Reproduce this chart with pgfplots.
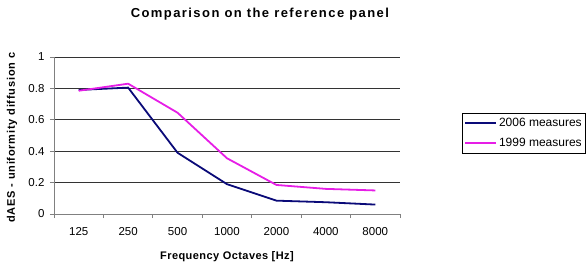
\documentclass[border=0pt]{standalone}
\usepackage{pgfplots}
\pgfplotsset{compat=1.18}
\usepackage{fontspec}
\setmainfont{Liberation Sans}
\newfontfamily\titlefont[LetterSpace=11]{Liberation Sans}
\newfontfamily\ylabelfont[LetterSpace=7]{Liberation Sans}
\newfontfamily\xlabelfont[LetterSpace=4]{Liberation Sans}
\definecolor{navyline}{RGB}{10,10,120}
\definecolor{magline}{RGB}{230,30,230}
\definecolor{axgray}{RGB}{128,128,128}

\begin{document}
\begin{tikzpicture}
\useasboundingbox (-54pt,-54pt) rectangle (533pt,214pt);
\begin{axis}[
  scale only axis, width=346pt, height=157pt,
  xmin=0.5, xmax=7.5, ymin=0, ymax=1,
  xtick={1,2,3,4,5,6,7},
  xticklabels={125,250,500,1000,2000,4000,8000},
  major x tick style={draw=none},
  minor xtick={0.5,1.5,2.5,3.5,4.5,5.5,6.5,7.5},
  minor tick length=4pt,
  major tick length=4pt,
  tick align=outside,
  tick style={axgray, line width=0.8pt},
  ytick={0,0.2,0.4,0.6,0.8,1},
  ymajorgrids,
  grid style={black!80, line width=0.8pt},
  axis x line*=bottom, axis y line*=left,
  axis line style={axgray, line width=0.8pt, -},
  /pgf/number format/assume math mode=true,
  yticklabel style={/pgf/number format/fixed, /pgf/number format/precision=1, font=\fontsize{11.5}{13}\selectfont, xshift=-2pt},
  xticklabel style={font=\fontsize{11.5}{13}\selectfont, yshift=-6pt},
  every axis title shift=0pt,
  title={Comparison on the reference panel},
  title style={at={(axis description cs:0.595,1.27)}, anchor=center, font=\titlefont\bfseries\fontsize{13}{15}\selectfont},
  xlabel={Frequency Octaves [Hz]},
  xlabel style={at={(axis description cs:0.5,-0.27)}, anchor=center, font=\xlabelfont\bfseries\fontsize{11}{13}\selectfont},
  ylabel={dAES - uniformity diffusion c},
  ylabel style={at={(axis description cs:-0.121,0.485)}, anchor=center, font=\ylabelfont\bfseries\fontsize{11}{13}\selectfont},
  legend style={at={(axis description cs:1.179,0.643)}, anchor=north west, draw=black, line width=0.6pt, font=\fontsize{12}{14}\selectfont, inner xsep=2pt, inner ysep=3pt, row sep=6pt, cells={anchor=west, inner xsep=1pt}},
  legend image code/.code={\draw[#1, line width=1.8pt] (0pt,0pt) -- (31pt,0pt);},
]
\addplot[navyline, line width=1.8pt] coordinates {(1,0.79) (2,0.805) (3,0.39) (4,0.19) (5,0.085) (6,0.075) (7,0.06)};
\addlegendentry{2006 measures}
\addplot[magline, line width=1.8pt] coordinates {(1,0.785) (2,0.83) (3,0.645) (4,0.355) (5,0.185) (6,0.16) (7,0.15)};
\addlegendentry{1999 measures}
\end{axis}
\end{tikzpicture}
\end{document}
